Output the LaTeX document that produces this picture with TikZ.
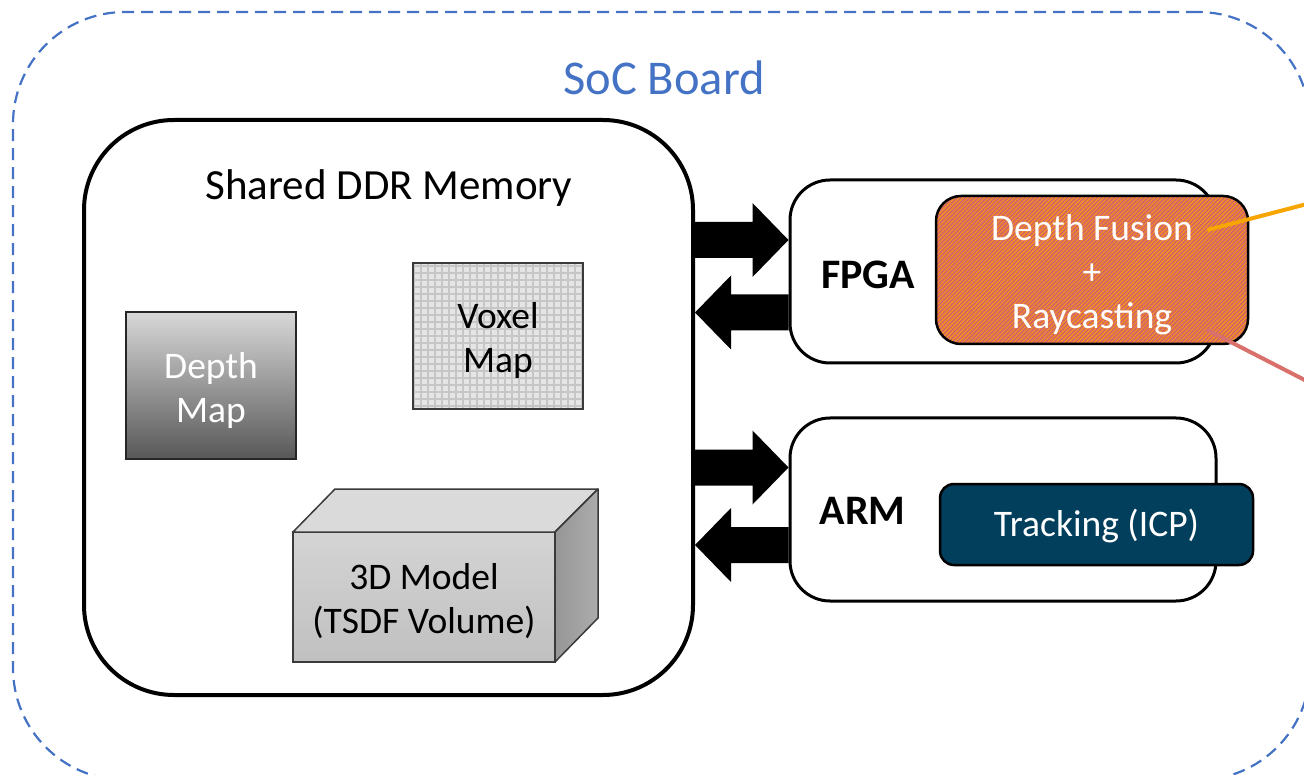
\documentclass[tikz,border=0pt]{standalone}
\usepackage{fontspec}
\setmainfont{Carlito}
\usetikzlibrary{calc,patterns.meta}

\definecolor{socblue}{HTML}{4472C4}
\definecolor{fusred}{RGB}{214,104,98}
\definecolor{fusorange}{RGB}{255,166,0}
\definecolor{trackblue}{HTML}{023F5C}
\definecolor{linered}{RGB}{217,112,108}
\definecolor{lineorange}{RGB}{247,165,0}
\definecolor{edgegray}{HTML}{3A3A3A}
\definecolor{dmaptop}{RGB}{216,216,216}
\definecolor{dmapbottom}{RGB}{88,88,88}
\definecolor{voxelfill}{RGB}{229,229,229}
\definecolor{voxelgrid}{RGB}{198,198,198}
\definecolor{cubefronttop}{RGB}{212,212,212}
\definecolor{cubefrontbottom}{RGB}{192,192,192}
\definecolor{cubetopfill}{RGB}{218,218,218}
\definecolor{cubesidedark}{RGB}{150,150,150}
\definecolor{cubesidelight}{RGB}{172,172,172}

% solid block arrow from tail #1 to tip #2 (horizontal)
\newcommand{\fatarrow}[2]{%
  \fill[blockarrow] ($(#1)+(0,-18)$) -- ($(#2)!36pt!(#1)+(0,-18)$)
    -- ($(#2)!36pt!(#1)+(0,-37)$) -- (#2) -- ($(#2)!36pt!(#1)+(0,37)$)
    -- ($(#2)!36pt!(#1)+(0,18)$) -- ($(#1)+(0,18)$) -- cycle;}

\begin{document}
\begin{tikzpicture}[x=1pt,y=-1pt,
  board/.style={draw=socblue, line width=2.2pt, dash pattern=on 12pt off 7pt,
    rounded corners=112pt, minimum width=1297pt, minimum height=768pt, inner sep=0pt},
  boardtitle/.style={text=socblue, font=\fontsize{48.5}{58}\selectfont, inner sep=0pt},
  memory/.style={draw, line width=4pt, rounded corners=90pt, fill=white,
    minimum width=609pt, minimum height=575pt, inner sep=0pt},
  memtitle/.style={font=\fontsize{43}{52}\selectfont, inner sep=0pt},
  body/.style={font=\fontsize{37.5}{44}\selectfont, align=center, inner sep=0pt},
  unitbox/.style={draw, line width=3pt, rounded corners=40pt, fill=white,
    minimum width=426pt, minimum height=183pt, inner sep=0pt},
  unitlabel/.style={font=\fontsize{42}{50}\selectfont\bfseries, inner sep=0pt},
  depthmap/.style={draw=black!85, line width=2pt, outer sep=0pt,
    top color=dmaptop, bottom color=dmapbottom,
    minimum width=170pt, minimum height=147pt, inner sep=0pt},
  voxelmap/.style={draw=edgegray, line width=2pt, outer sep=0pt,
    fill=voxelfill, minimum width=170pt, minimum height=146pt, inner sep=0pt,
    path picture={\draw[voxelgrid, line width=1.3pt]
      (path picture bounding box.south west) grid[step=7pt] (path picture bounding box.north east);}},
  cubefront/.style={draw=edgegray, line width=1.5pt, outer sep=0pt,
    top color=cubefronttop, bottom color=cubefrontbottom,
    minimum width=262pt, minimum height=130pt, inner sep=0pt},
  cubetop/.style={draw=edgegray, line width=1.5pt, line join=round, fill=cubetopfill},
  cubeside/.style={draw=edgegray, line width=1.5pt, line join=round,
    left color=cubesidedark, right color=cubesidelight},
  fusion/.style={draw, line width=2.5pt, rounded corners=25pt,
    preaction={fill=fusred}, pattern={Lines[angle=45,distance=3pt,line width=0.6pt]},
    pattern color=fusorange, minimum width=312pt, minimum height=148pt, inner sep=0pt},
  tracking/.style={draw, line width=2.5pt, rounded corners=14pt, fill=trackblue,
    minimum width=313pt, minimum height=81pt, inner sep=0pt},
  blockarrow/.style={fill=black},
  outline/.style={line width=4pt}
]
\useasboundingbox (0,0) rectangle (1304,775);

% SoC board frame (runs past the page edge on the right and bottom)
\begin{scope}
  \clip (0,0) rectangle (1304,775);
  \node[board] (soc) at (661.5,396) {};
\end{scope}
\node[boardtitle] (soclabel) at (664,78) {SoC Board};

% shared memory and its contents
\node[memory] (mem) at (388.5,407.5) {};
\node[memtitle] (memlabel) at (389,188) {Shared DDR Memory};
\node[depthmap] (dmap) at (211,385.5) {};
\node[body, text=white] (dmaplabel) at ($(dmap.center)+(0,5)$) {Depth\\Map};
\node[voxelmap] (vmap) at (498,336) {};
\node[body] (vmaplabel) at ($(vmap.center)+(0,5)$) {Voxel\\Map};

% TSDF volume drawn as a box
\node[cubefront] (cube) at (424,597) {};
\draw[cubetop] (cube.north west) -- ++(42,-43) -- ++(263,0) -- (cube.north east) -- cycle;
\draw[cubeside] (cube.north east) -- ++(43,-43) -- ++(0,129) -- (cube.south east) -- cycle;
\node[body] (cubelabel) at ($(cube.center)+(0,4)$) {3D Model\\(TSDF Volume)};

% processing units
\node[unitbox] (fpga) at (1003,271.5) {};
\node[unitbox] (arm) at (1003,509.5) {};
\node[unitlabel] (fpgalabel) at (868,275) {FPGA};
\node[unitlabel] (armlabel) at (862.5,511) {ARM};
\node[fusion] (fus) at (1092,270) {};
\node[body, text=white] (fuslabel) at ($(fus.center)+(0,5)$) {Depth Fusion\\+\\Raycasting};
\node[tracking] (trk) at (1096.5,524.5) {};
\node[body, text=white] (trklabel) at ($(trk.center)+(0,2)$) {Tracking (ICP)};

% memory traffic
\coordinate (a1t) at (mem.east |- 0,240);
\coordinate (a1h) at (fpga.west |- 0,240);
\coordinate (a2t) at (fpga.west |- 0,312.5);
\coordinate (a2h) at (mem.east |- 0,312.5);
\coordinate (a3t) at (mem.east |- 0,467.5);
\coordinate (a3h) at (arm.west |- 0,467.5);
\coordinate (a4t) at (arm.west |- 0,545);
\coordinate (a4h) at (mem.east |- 0,545);
\fatarrow{a1t}{a1h}
\fatarrow{a2t}{a2h}
\fatarrow{a3t}{a3h}
\fatarrow{a4t}{a4h}

% leader lines leaving the fusion block
\coordinate (fusA) at ($(fus.east)+(-41,-40)$);
\coordinate (fusB) at ($(fus.east)+(-41,60)$);
\coordinate (farA) at (1330,198);
\coordinate (farB) at (1330,393);
\begin{scope}
  \clip (0,0) rectangle (1304,775);
  \draw[lineorange, outline] (fusA) -- (farA);
  \draw[linered, outline] (fusB) -- (farB);
\end{scope}
\end{tikzpicture}
\end{document}
